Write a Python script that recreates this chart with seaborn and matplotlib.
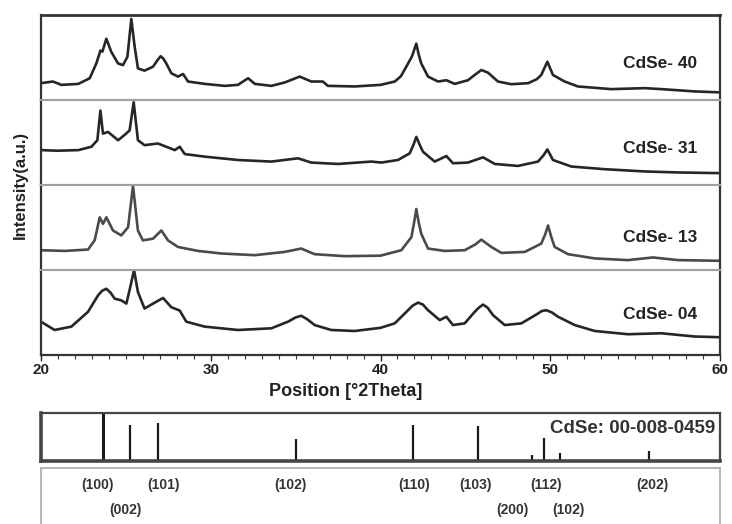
import pandas as pd
import seaborn as sns
import matplotlib.pyplot as plt
from matplotlib.ticker import MultipleLocator

sns.set_style("white")
plt.rcParams['font.family'] = ['Liberation Sans', 'DejaVu Sans']
plt.rcParams['font.weight'] = 'bold'

# sample names, top to bottom
samples = ['CdSe- 40', 'CdSe- 31', 'CdSe- 13', 'CdSe- 04']

theta_40 = [20.0, 20.7, 21.2, 22.2, 22.87, 23.26, 23.5, 23.62, 23.85, 24.14,
            24.54, 24.83, 25.09, 25.32, 25.52, 25.71, 26.1, 26.6, 26.85, 27.05,
            27.2, 27.38, 27.68, 28.07, 28.37, 28.66, 29.64, 30.82, 31.6, 32.2,
            32.6, 33.57, 34.35, 35.24, 35.92, 36.6, 36.9, 38.48, 40.0, 40.84,
            41.2, 41.52, 41.85, 42.11, 42.25, 42.4, 42.8, 43.39, 43.88, 44.37,
            45.15, 45.6, 45.94, 46.33, 46.92, 47.7, 48.7, 49.2, 49.47, 49.83,
            50.16, 50.85, 51.63, 53.6, 55.56, 56.54, 58.5, 60.0]
int_40 = [17, 18.7, 15.3, 16.3, 22, 37, 50, 49, 62, 48.7,
          37, 35.3, 43.7, 82, 53.7, 32, 29.7, 33.7, 40, 44.3,
          42, 37, 27, 23.7, 26.3, 18.7, 16.3, 14.3, 15.3, 22,
          16.3, 14.3, 17.7, 23.7, 18.7, 18.7, 14.3, 13.7, 15.3, 18.7,
          24, 33.7, 44, 57, 46, 37, 23.7, 18.7, 20, 16.3,
          20, 26, 30.3, 27.7, 18.7, 16, 17, 21, 25.3, 38.7,
          25.3, 18.7, 13.7, 11, 12, 11, 8.7, 7.7]

theta_31 = [20.0, 20.95, 22.2, 22.97, 23.32, 23.5, 23.65, 23.95, 24.54, 24.97,
            25.22, 25.46, 25.71, 26.1, 26.89, 27.38, 27.88, 28.17, 28.47, 29.64,
            31.6, 33.57, 35.14, 35.92, 37.5, 39.46, 40.05, 41.03, 41.72, 41.95,
            42.11, 42.3, 42.5, 43.19, 43.88, 44.27, 45.15, 46.04, 46.73, 48.1,
            49.28, 49.6, 49.83, 50.16, 51.24, 53.2, 55.56, 57.53, 60.0]
int_31 = [35.3, 34.7, 35.3, 38.7, 45.3, 75.3, 52, 53.7, 45.3, 51.3,
          55.3, 83.7, 45.3, 40.3, 42, 38.7, 35.3, 38.7, 31.3, 28.7,
          25.3, 23.7, 27, 22.7, 21.3, 23.7, 22.7, 25.3, 32, 41,
          48.7, 41, 33.7, 23.7, 29.3, 22, 22.7, 28, 21.3, 19.3,
          23.7, 30, 36, 25.3, 18.7, 16, 13.7, 12.7, 12]

theta_13 = [20.0, 21.4, 22.77, 23.16, 23.46, 23.65, 23.85, 24.24, 24.73, 25.13,
            25.42, 25.71, 26.0, 26.6, 27.09, 27.48, 28.07, 29.25, 30.62, 32.59,
            34.35, 35.33, 36.12, 37.9, 40.0, 41.23, 41.82, 41.98, 42.11, 42.25,
            42.4, 42.8, 43.78, 44.96, 45.6, 45.94, 46.53, 47.12, 48.5, 49.47,
            49.7, 49.87, 50.05, 50.26, 51.05, 52.62, 54.58, 56.05, 57.53, 60.0]
int_13 = [20, 19.3, 20.7, 30, 53.3, 46.7, 53.3, 40, 35, 43.3,
          85, 40, 30, 31.7, 40, 30, 23.3, 19.3, 16.7, 15,
          18.3, 21.7, 16, 14, 14.5, 20, 33.3, 48, 61.7, 48,
          36.7, 21.7, 19.3, 20, 26, 30.7, 23.3, 17.3, 18.3, 26.7,
          36, 45, 34, 23.3, 16, 11.7, 10, 12.7, 10, 9.3]

theta_04 = [20.0, 20.8, 21.79, 22.77, 23.36, 23.6, 23.85, 24.1, 24.34, 24.73,
            25.03, 25.28, 25.48, 25.71, 26.1, 26.6, 27.19, 27.68, 28.17, 28.56,
            29.64, 31.6, 33.57, 34.55, 35.0, 35.33, 35.7, 36.12, 37.1, 38.48,
            40.0, 40.84, 41.62, 41.9, 42.21, 42.5, 42.8, 43.49, 43.88, 44.27,
            44.96, 45.55, 45.8, 46.04, 46.3, 46.63, 47.32, 48.3, 49.28, 49.5,
            49.77, 50.1, 50.46, 51.44, 52.62, 54.58, 56.54, 58.5, 60.0]
int_04 = [33.7, 25.3, 28.7, 43.7, 60.3, 65, 67, 63, 57, 55.3,
          52, 70.3, 86, 63.7, 47, 52, 57.7, 48.3, 45, 33.7,
          28.7, 25.3, 27, 33.7, 38, 39.7, 36, 30.3, 25.3, 24.3,
          27.5, 32, 45.3, 50, 53, 51, 45.3, 35.3, 38.7, 30.3,
          32, 43.7, 48, 51, 48, 40.3, 30.3, 32, 42, 44.5,
          45.3, 43, 38.7, 30.3, 24.3, 21, 22, 18.7, 18]

thetas = [theta_40, theta_31, theta_13, theta_04]
intensities = [int_40, int_31, int_13, int_04]
label_height = [0.43, 0.435, 0.38, 0.48]
line_colors = ['#262626', '#262626', '#4a4a4a', '#262626']

# reference card CdSe 00-008-0459
ref_pos = [23.65, 25.25, 26.9, 35.0, 41.9, 45.75, 48.9, 49.65, 50.6, 55.8]
ref_int = [100, 76, 80, 46, 76, 72, 13, 48, 17, 20]
ref_hkl = ['(100)', '(002)', '(101)', '(102)', '(110)', '(103)', '(200)',
           '(112)', '(102)', '(202)']
hkl_x = [23.3, 24.95, 27.2, 34.7, 42.0, 45.6, 47.8, 49.75, 51.1, 56.0]
hkl_row = [0, 1, 0, 0, 0, 0, 1, 0, 1, 0]

fig = plt.figure(figsize=(7.32, 5.24), dpi=100)

left, width = 41 / 732, 679 / 732
panel_h = 85 / 524
main_bottom = (524 - 355) / 524

axes = []
for i in range(4):
    b = main_bottom + (3 - i) * panel_h
    ax = fig.add_axes([left, b, width, panel_h])
    df = pd.DataFrame({'theta': thetas[i], 'intensity': intensities[i]})
    sns.lineplot(data=df, x='theta', y='intensity', ax=ax, estimator=None,
                 color=line_colors[i], lw=1.9)
    ax.set_xlim(20, 60)
    ax.set_ylim(0, 86)
    ax.set_xlabel('')
    ax.set_ylabel('')
    ax.set_yticks([])
    ax.text(0.966, label_height[i], samples[i], transform=ax.transAxes,
            ha='right', va='center', fontsize=12.5, fontweight='bold',
            color='#222222')
    for side in ['left', 'right']:
        ax.spines[side].set_color('#333333')
        ax.spines[side].set_linewidth(1.6)
    for side in ['top', 'bottom']:
        ax.spines[side].set_color('#a0a0a0')
        ax.spines[side].set_linewidth(1.5)
    if i < 3:
        ax.set_xticks([])
    axes.append(ax)

axes[0].spines['top'].set_color('#333333')
axes[0].spines['top'].set_linewidth(2)
bot = axes[3]
bot.spines['bottom'].set_color('#333333')
bot.spines['bottom'].set_linewidth(1.6)
bot.xaxis.set_major_locator(MultipleLocator(10))
bot.xaxis.set_minor_locator(MultipleLocator(1))
bot.tick_params(axis='x', which='major', direction='out', length=4, width=1,
                bottom=True, labelsize=11, pad=2, colors='#222222')
bot.tick_params(axis='x', which='minor', direction='out', length=3, width=0.8,
                bottom=True, colors='#333333')
for lab in bot.get_xticklabels():
    lab.set_fontweight('bold')
bot.set_xlabel('Position [°2Theta]', fontsize=13, fontweight='bold',
               color='#222222')
bot.xaxis.set_label_coords(0.449, -0.33)

fig.text(20.5 / 732, (524 - 185) / 524, 'Intensity(a.u.)', rotation=90,
         ha='center', va='center', fontsize=12, fontweight='bold',
         color='#222222')

# stick pattern
sax = fig.add_axes([left, (524 - 461) / 524, width, 48 / 524])
sax.vlines(ref_pos, 0, ref_int, colors='#1a1a1a',
           linewidths=[2.2] + [1.6] * (len(ref_pos) - 1))
sax.set_xlim(20, 60)
sax.set_ylim(0, 100)
sax.set_xticks([])
sax.set_yticks([])
for side in sax.spines:
    sax.spines[side].set_color('#444444')
    sax.spines[side].set_linewidth(1.6)
sax.spines['bottom'].set_linewidth(2.6)
sax.spines['left'].set_linewidth(2.6)
sax.text(0.993, 0.67, 'CdSe: 00-008-0459', transform=sax.transAxes,
         ha='right', va='center', fontsize=13.5, fontweight='bold',
         color='#333333')

# hkl label box
lax = fig.add_axes([left, (524 - 530) / 524, width, 62 / 524])
lax.set_xlim(20, 60)
lax.set_ylim(0, 1)
lax.set_xticks([])
lax.set_yticks([])
for side in lax.spines:
    lax.spines[side].set_color('#b0b0b0')
    lax.spines[side].set_linewidth(1.3)
row_y = [0.726, 0.32]
for x, hkl, r in zip(hkl_x, ref_hkl, hkl_row):
    lax.text(x, row_y[r], hkl, ha='center', va='center', fontsize=10,
             fontweight='bold', color='#333333')

fig.savefig('out.png', dpi=100)
